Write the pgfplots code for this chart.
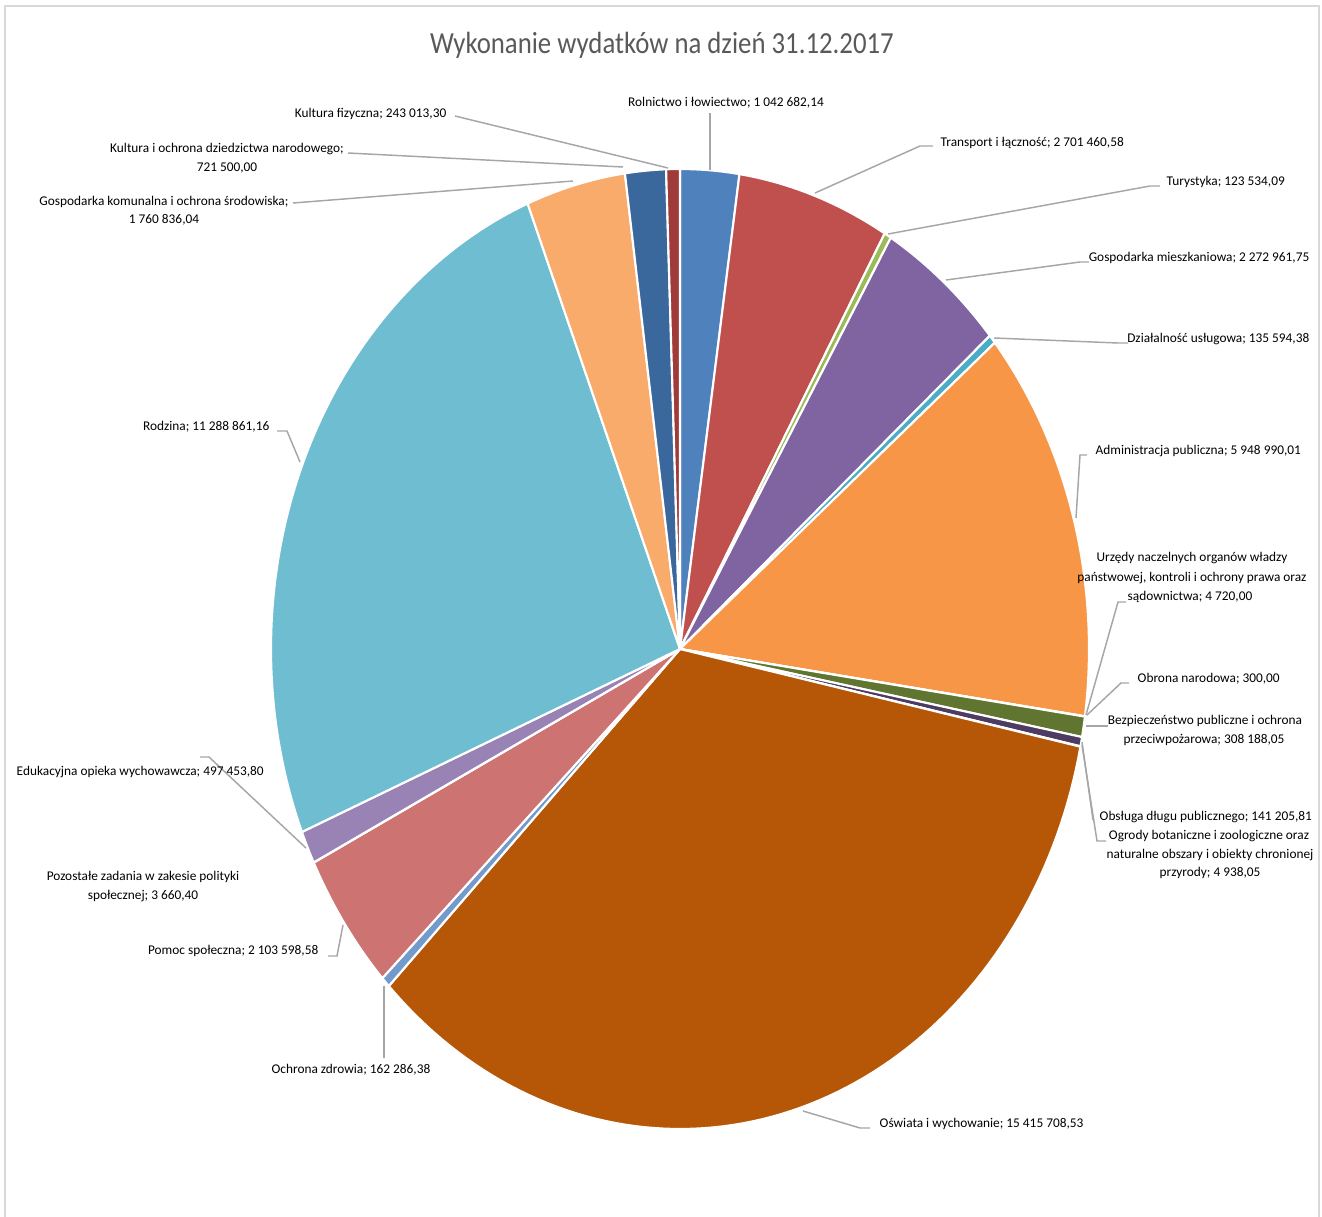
\documentclass[border=0pt]{standalone}
\usepackage{pgfplots}
\pgfplotsset{compat=1.18}
\usepackage{pgfplotstable}
\usepackage{graphicx}
\usepackage{fontspec}
\setmainfont{Carlito}

% Excel 2010 palette, one colour per slice
\definecolor{pie0}{HTML}{4F81BD}
\definecolor{pie1}{HTML}{C0504D}
\definecolor{pie2}{HTML}{9BBB59}
\definecolor{pie3}{HTML}{8064A2}
\definecolor{pie4}{HTML}{4BACC6}
\definecolor{pie5}{HTML}{F79646}
\definecolor{pie6}{HTML}{2C4D75}
\definecolor{pie7}{HTML}{772C2A}
\definecolor{pie8}{HTML}{5F7530}
\definecolor{pie9}{HTML}{4D3B62}
\definecolor{pie10}{HTML}{276A7C}
\definecolor{pie11}{HTML}{B65708}
\definecolor{pie12}{HTML}{729ACA}
\definecolor{pie13}{HTML}{CD7371}
\definecolor{pie14}{HTML}{AFC97A}
\definecolor{pie15}{HTML}{9983B5}
\definecolor{pie16}{HTML}{6FBDD1}
\definecolor{pie17}{HTML}{F9AB6B}
\definecolor{pie18}{HTML}{3A679C}
\definecolor{pie19}{HTML}{9F3B38}
\definecolor{lbl}{HTML}{404040}
\definecolor{ttl}{HTML}{595959}
\definecolor{lead}{HTML}{A6A6A6}

% wydatki (zl), clockwise from the top
\pgfplotstableread{
value
1042682.14
2701460.58
123534.09
2272961.75
135594.38
5948990.01
4720.00
300.00
308188.05
141205.81
4938.05
15415708.53
162286.38
2103598.58
3660.40
497453.80
11288861.16
1760836.04
721500.00
243013.30
}\wydatki

\pgfplotstablegetrowsof{\wydatki}
\pgfmathtruncatemacro\nrows{\pgfplotsretval-1}

% start / end angle of every slice
\def\total{0}
\def\cum{0}
{\pgfkeys{/pgf/fpu=true,/pgf/fpu/output format=fixed}
\foreach \i in {0,...,\nrows}{
  \pgfplotstablegetelem{\i}{value}\of\wydatki
  \pgfmathparse{\total+\pgfplotsretval}\xdef\total{\pgfmathresult}
}
\foreach \i in {0,...,\nrows}{
  \pgfplotstablegetelem{\i}{value}\of\wydatki
  \pgfmathparse{\cum+\pgfplotsretval}\xdef\cumnew{\pgfmathresult}
  \pgfmathparse{360*\cum/\total}\expandafter\xdef\csname pa\i\endcsname{\pgfmathresult}
  \pgfmathparse{360*\cumnew/\total}\expandafter\xdef\csname pb\i\endcsname{\pgfmathresult}
  \xdef\cum{\cumnew}
}
}

\newcommand\slice[1]{%
  \addplot[fill=pie#1, draw=white, line width=1.6pt, line join=round,
    domain=\csname pa#1\endcsname:\csname pb#1\endcsname, samples=90, variable=\t]
    ({680+409*sin(\t)},{649-480*cos(\t)}) -- (axis cs:680,649) -- cycle;}

\newcommand\sq[1]{#1}

\begin{document}
\begin{tikzpicture}
\useasboundingbox (0,0) rectangle (991.5pt,912.75pt);
\begin{axis}[
  width=991.5pt, height=912.75pt, scale only axis,
  xmin=0, xmax=1322, ymin=0, ymax=1217, y dir=reverse,
  hide axis, clip=false,
  every node/.style={font=\fontsize{12}{14.6}\selectfont, text=lbl, inner sep=0pt,
    text height=0.7em, text depth=0.2em},
]
\pgfplotsinvokeforeach{0,...,19}{\slice{#1}}

% frame
\draw[color=black!15, line width=1.5pt] (axis cs:5,1217) -- (axis cs:5,6) -- (axis cs:1319,6) -- (axis cs:1319,1217);

% title
\node[font=\fontsize{23}{27}\selectfont, text=ttl] at (axis cs:662,45) {\scalebox{0.873}[1]{Wykonanie wydatków na dzień 31.12.2017}};

% leader lines
\begin{scope}[lead, line width=1.1pt]
\draw (axis cs:710,113) -- (axis cs:710,170);
\draw (axis cs:933,146) -- (axis cs:920,146) -- (axis cs:815,193);
\draw (axis cs:1160,186) -- (axis cs:1150,186) -- (axis cs:888,234);
\draw (axis cs:1089,262) -- (axis cs:1080,262) -- (axis cs:946,280);
\draw (axis cs:1128,343) -- (axis cs:1118,343) -- (axis cs:994,338);
\draw (axis cs:1087,455) -- (axis cs:1080,455) -- (axis cs:1076,518);
\draw (axis cs:1126,602) -- (axis cs:1118,602) -- (axis cs:1086,715);
\draw (axis cs:1129,683) -- (axis cs:1121,683) -- (axis cs:1087,715);
\draw (axis cs:1108,726) -- (axis cs:1086,726);
\draw (axis cs:1082,742) -- (axis cs:1093,820);
\draw (axis cs:1082,745) -- (axis cs:1097,841) -- (axis cs:1106,841);
\draw (axis cs:870,1128) -- (axis cs:860,1128) -- (axis cs:803,1111);
\draw (axis cs:384,1058) -- (axis cs:384,986);
\draw (axis cs:328,956) -- (axis cs:337,956) -- (axis cs:343,925);
\draw (axis cs:200,757) -- (axis cs:209,757) -- (axis cs:306,848);
\draw (axis cs:277,431) -- (axis cs:287,431) -- (axis cs:300,462);
\draw (axis cs:293,203) -- (axis cs:573,181);
\draw (axis cs:348,153) -- (axis cs:623,167);
\draw (axis cs:455,116) -- (axis cs:668,168);
\end{scope}

% data labels
\node at (axis cs:726,103) {\sq{Rolnictwo i łowiectwo; 1 042 682,14}};
\node[anchor=west] at (axis cs:936,143) {\sq{Transport i łączność; 2 701 460,58}};
\node[anchor=west] at (axis cs:1162,182) {\sq{Turystyka; 123 534,09}};
\node[anchor=east] at (axis cs:1314,258) {\sq{Gospodarka mieszkaniowa; 2 272 961,75}};
\node[anchor=east] at (axis cs:1314,339) {\sq{Działalność usługowa; 135 594,38}};
\node[anchor=west] at (axis cs:1091,451) {\sq{Administracja publiczna; 5 948 990,01}};
\node at (axis cs:1192,558) {\sq{Urzędy naczelnych organów władzy}};
\node at (axis cs:1192,578) {\sq{państwowej, kontroli i ochrony prawa oraz}};
\node at (axis cs:1190,597) {\sq{sądownictwa; 4 720,00}};
\node[anchor=west] at (axis cs:1133,679) {\sq{Obrona narodowa; 300,00}};
\node at (axis cs:1205,721) {\sq{Bezpieczeństwo publiczne i ochrona}};
\node at (axis cs:1204,740) {\sq{przeciwpożarowa; 308 188,05}};
\node[anchor=west] at (axis cs:1095,817) {\sq{Obsługa długu publicznego; 141 205,81}};
\node at (axis cs:1209,836) {\sq{Ogrody botaniczne i zoologiczne oraz}};
\node at (axis cs:1210,855) {\sq{naturalne obszary i obiekty chronionej}};
\node at (axis cs:1210,873) {\sq{przyrody; 4 938,05}};
\node[anchor=west] at (axis cs:875,1124) {\sq{Oświata i wychowanie; 15 415 708,53}};
\node at (axis cs:351,1070) {\sq{Ochrona zdrowia; 162 286,38}};
\node[anchor=east] at (axis cs:323,951) {\sq{Pomoc społeczna; 2 103 598,58}};
\node at (axis cs:143,877) {\sq{Pozostałe zadania w zakesie polityki}};
\node at (axis cs:143,896) {\sq{społecznej; 3 660,40}};
\node[anchor=west] at (axis cs:12,772) {\sq{Edukacyjna opieka wychowawcza; 497 453,80}};
\node[anchor=east] at (axis cs:274,427) {\sq{Rodzina; 11 288 861,16}};
\node at (axis cs:164,202) {\sq{Gospodarka komunalna i ochrona środowiska;}};
\node at (axis cs:164,220) {\sq{1 760 836,04}};
\node at (axis cs:227,149) {\sq{Kultura i ochrona dziedzictwa narodowego;}};
\node at (axis cs:227,168) {\sq{721 500,00}};
\node[anchor=east] at (axis cs:451,114) {\sq{Kultura fizyczna; 243 013,30}};
\end{axis}
\end{tikzpicture}
\end{document}
